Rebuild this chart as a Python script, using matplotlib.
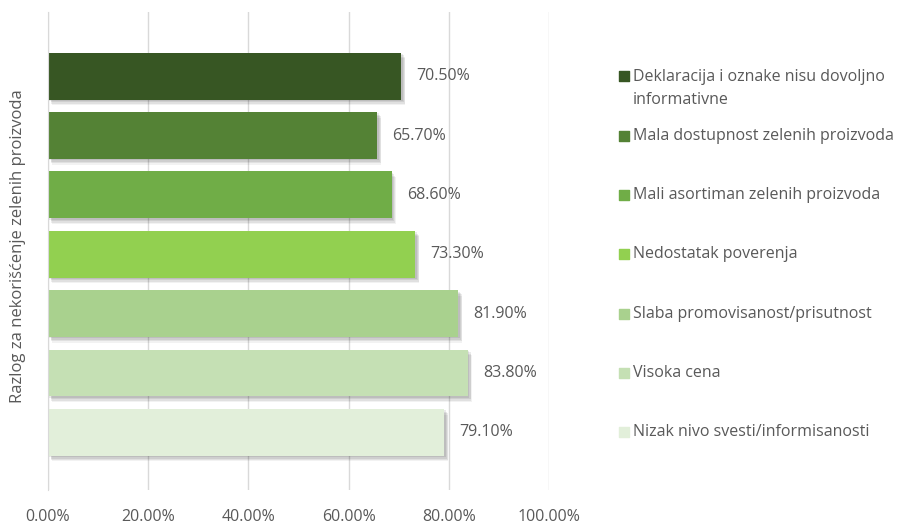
import matplotlib
matplotlib.use("Agg")
import matplotlib.pyplot as plt
import matplotlib.patheffects as pe
from matplotlib.ticker import FuncFormatter

# --- podaci ---
razlozi = [
    "Deklaracija i oznake nisu dovoljno\ninformativne",
    "Mala dostupnost zelenih proizvoda",
    "Mali asortiman zelenih proizvoda",
    "Nedostatak poverenja",
    "Slaba promovisanost/prisutnost",
    "Visoka cena",
    "Nizak nivo svesti/informisanosti",
]
procenti = [70.5, 65.7, 68.6, 73.3, 81.9, 83.8, 79.1]
boje = ["#375623", "#548235", "#70ad47", "#92d050", "#a9d18e", "#c5e0b4", "#e2efda"]
x_tikovi = [0, 20, 40, 60, 80, 100]
naslov_y = "Razlog za nekorišćenje zelenih proizvoda"

plt.rcParams['font.family'] = ['Open Sans', 'DejaVu Sans']
siva = "#595959"
fs = 11.5

fig = plt.figure(figsize=(9.13, 5.24), dpi=100)
ax = fig.add_axes([48/913, 1 - 490/524, (549 - 48)/913, (490 - 12)/524])

pozicije = list(range(len(procenti)))
senka = [
    pe.SimplePatchShadow(offset=(1, -1), shadow_rgbFace='black', alpha=0.08),
    pe.SimplePatchShadow(offset=(2, -2), shadow_rgbFace='black', alpha=0.08),
    pe.SimplePatchShadow(offset=(2.5, -3), shadow_rgbFace='black', alpha=0.07),
    pe.SimplePatchShadow(offset=(3, -4), shadow_rgbFace='black', alpha=0.05),
    pe.Normal(),
]
bars = ax.barh(pozicije, procenti, height=0.79, color=boje, zorder=3)
for b in bars:
    b.set_path_effects(senka)

for p, v in zip(pozicije, procenti):
    ax.text(v + 3.0, p, f"{v:.2f}%", va='center', ha='left', fontsize=fs, color=siva)

ax.set_xlim(0, 100)
ax.set_ylim(6.97, -1.08)
ax.set_xticks(x_tikovi)
ax.xaxis.set_major_formatter(FuncFormatter(lambda v, _: f"{v:.2f}%"))
ax.tick_params(axis='x', length=0, pad=14, labelsize=fs, labelcolor=siva)
ax.set_yticks([])
ax.grid(axis='x', color='#d9d9d9', linewidth=1, zorder=0)
for s in ['top', 'right', 'bottom']:
    ax.spines[s].set_visible(False)
ax.spines['left'].set_color('#d9d9d9')
ax.spines['left'].set_zorder(4)

fig.text(18/913, 1 - 246/524, naslov_y, rotation=90, va='center', ha='center',
         fontsize=12, color=siva)

# legenda poravnata sa trakama
tr = matplotlib.transforms.blended_transform_factory(fig.transFigure, ax.transData)
for p, r, c in zip(pozicije, razlozi, boje):
    ax.scatter([624/913], [p], marker='s', s=55, color=c, transform=tr, clip_on=False)
    if "\n" in r:
        ax.text(633/913, p - 0.12, r, transform=tr, va='top', ha='left', fontsize=fs,
                color=siva, linespacing=1.55, clip_on=False)
    else:
        ax.text(633/913, p, r, transform=tr, va='center', ha='left', fontsize=fs,
                color=siva, clip_on=False)

fig.savefig("out.png", dpi=100)
